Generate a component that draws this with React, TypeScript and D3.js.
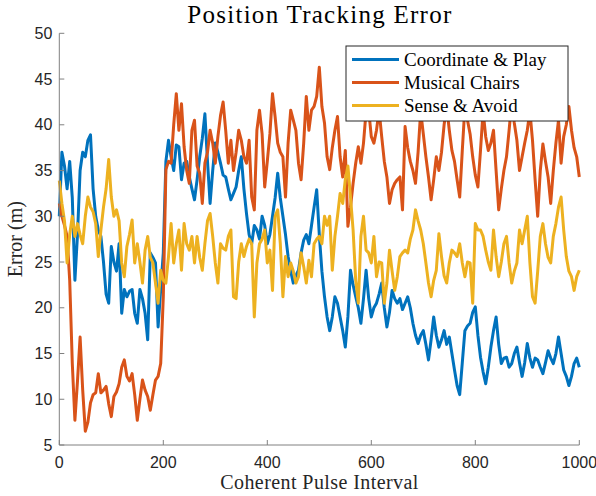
import * as d3 from 'd3';

// sample index along the x axis (every 5th coherent pulse interval)
const pulseIdx = d3.range(0, 1001, 5);

const coordinatePlay = [
  30, 37, 35.5, 33, 36, 32, 23, 28, 35, 37,
  36.5, 38.3, 38.9, 33, 30, 28.5, 27.8, 25, 21.5, 20.5,
  26.7, 25, 24, 27, 19.4, 22, 21.2, 21.8, 22, 19.4,
  18.3, 22, 21, 19.4, 16.5, 26, 25.5, 24.9, 17.9, 22,
  26, 36, 38.3, 36.5, 35, 37.8, 37.6, 34, 35.8, 36,
  34.3, 33, 31.8, 34, 36.5, 38.5, 41.2, 36, 31.4, 35,
  38, 37, 35.8, 34.5, 34.3, 33, 31.8, 32.5, 33.2, 35,
  36.5, 33, 30.3, 28, 27, 29, 28.5, 27.5, 30, 29,
  27, 28, 30, 32, 34.7, 32, 30, 28, 25.6, 24,
  22.7, 23.5, 24.1, 26, 27.4, 28, 27, 29, 31, 32.9,
  28, 24, 21.2, 19, 17.5, 19, 21.2, 20.5, 19, 17.5,
  15.7, 19, 24.1, 22.5, 21.2, 20, 18.3, 21, 24.1, 21,
  19, 20, 20.5, 21.5, 22.7, 20, 17.9, 19.5, 21.9, 21,
  20.5, 21, 19.8, 20.5, 21.2, 20, 18.3, 17, 16.1, 17,
  17.5, 16, 14.3, 16.5, 19, 17, 15.7, 16.5, 17.5, 16,
  16.8, 15, 13.2, 11.5, 10.5, 14, 17.5, 18, 18.3, 19.5,
  20.1, 17, 14.6, 13, 11.7, 13.5, 15.7, 17.5, 19, 16,
  13.9, 14.5, 14.6, 13.5, 13.9, 15, 15.7, 14, 12.5, 14,
  16.1, 14.5, 13.5, 14.5, 14.3, 13.5, 12.8, 14, 15.3, 14.5,
  13.9, 15, 16.8, 15, 13.2, 12.5, 11.5, 12.5, 13.9, 14.5,
  13.5,
];

const musicalChairs = [
  31.4, 30, 29, 27.8, 23, 13.9, 7.7, 12, 16.8, 11,
  6.5, 7.5, 9.6, 10.5, 10.7, 12.8, 10.7, 11, 11.4, 9.5,
  8.1, 10.3, 10.8, 11.7, 13.5, 14.3, 12.5, 12, 12.8, 10.5,
  7.7, 10, 12.1, 11, 10.3, 8.8, 10.5, 12.1, 12.5, 13.9,
  21.2, 35.1, 36, 35.8, 40, 43.4, 39.4, 42.3, 37.6, 35,
  33.6, 39.4, 40.5, 35.5, 34.7, 31.4, 35.8, 37, 39.4, 38,
  35.8, 38.7, 41, 42.5, 39.4, 35.8, 38.3, 35, 37, 39.4,
  38.3, 36.5, 35.8, 38.3, 32.1, 30.7, 39.4, 41.6, 39, 33.2,
  36, 39, 43.4, 40.9, 38, 37, 36.5, 32.1, 38, 41.6,
  40.5, 39.4, 35.8, 34, 38, 43.1, 39.4, 41.6, 42, 43.1,
  46.3, 42, 40.2, 36.5, 35.1, 37.5, 39.4, 40.9, 36.5, 34.3,
  37.2, 28.9, 31, 33.6, 35.8, 37.6, 35.8, 38, 41.5, 41.6,
  38.7, 38, 39.4, 41.6, 38.7, 36, 34.3, 31.4, 32.9, 33.6,
  34, 34.3, 30.7, 39.8, 37.5, 36, 35, 33.6, 37, 41.5,
  39, 36.5, 34.3, 31.8, 34, 36.5, 35, 37, 40, 42,
  39.4, 37.2, 36, 34, 32.1, 37.2, 42, 40.5, 39, 36.5,
  34.5, 33.2, 37.2, 41.5, 38.7, 37.2, 38, 39.4, 35, 30.7,
  33, 35, 36.5, 39.4, 42.5, 40.2, 38.3, 35, 36.5, 38,
  39.4, 41.5, 38.3, 34, 30, 35, 37.9, 36, 34.3, 31.4,
  35, 38, 40.5, 35.8, 38.7, 40, 42, 39.4, 37.5, 36.5,
  34.3,
];

const senseAvoid = [
  33.9, 31.4, 29.5, 24.9, 28, 30, 27.8, 29.2, 28, 27,
  30, 32.1, 31, 30.5, 29.2, 25.6, 28.5, 31, 33, 36.2,
  32.1, 30, 30.7, 29.5, 24.9, 23.4, 26.7, 28, 29.6, 24.9,
  27, 25, 22.7, 26.3, 27.8, 25.5, 24.9, 22.7, 20.5, 24.1,
  23, 22.7, 25.6, 29.2, 24.9, 27, 28.5, 24.1, 29.2, 27,
  26.3, 27.8, 24.9, 27.8, 25.5, 24.1, 27, 29.5, 30.3, 27.8,
  24.9, 22.7, 27, 26.5, 26.3, 27.8, 28.5, 21.2, 21, 25,
  27, 25.6, 26.7, 27.5, 27, 19, 24.9, 27, 27.5, 28.5,
  24.9, 26.3, 21.9, 30, 30.7, 27, 21.2, 25.6, 23.4, 24.9,
  24, 22.7, 23.4, 26, 24.5, 22.7, 25.2, 23.4, 27, 27.5,
  27.8, 27, 30, 29, 30, 24.1, 27.8, 30, 32.5, 31.4,
  34, 35.5, 32.1, 28.5, 23, 20.5, 27.8, 30, 26.3, 26,
  24.9, 27.8, 23.4, 25, 24.9, 20.5, 22.7, 26.3, 24, 21.9,
  23.4, 25.6, 26, 26.3, 26, 27.5, 28.5, 30.7, 29.5, 28.5,
  27, 24.9, 22.7, 21.2, 23, 24.1, 28.1, 25.6, 23.5, 22.7,
  24.9, 26.3, 26, 25.6, 27, 24.9, 23.4, 25, 24.9, 20.5,
  29.2, 28.5, 28.5, 27.8, 26.3, 25, 24.1, 28.5, 25.6, 23.4,
  25, 27, 27.8, 24.9, 22.7, 24, 24.9, 28.5, 27, 28.5,
  30, 24.9, 21.2, 20.5, 24, 27.8, 29.2, 27, 25.5, 24.9,
  27.8, 29.2, 31, 32.1, 28.5, 25.6, 24, 23.4, 21.9, 23.4,
  24.1,
];

const seriesNames = ['Coordinate & Play', 'Musical Chairs', 'Sense & Avoid'];
const seriesColors = ['#0072BD', '#D95319', '#EDB120'];
const xTicks = [0, 200, 400, 600, 800, 1000];
const yTicks = [5, 10, 15, 20, 25, 30, 35, 40, 45, 50];

const W = 596;
const H = 496;
const margin = { top: 33.3, right: 16.7, bottom: 51, left: 59.3 };
const serif = '"Liberation Serif", "Times New Roman", serif';
const sans = '"Liberation Sans", Arial, sans-serif';

const App = () => {
  const x = d3.scaleLinear().domain([0, 1000]).range([margin.left, W - margin.right]);
  const y = d3.scaleLinear().domain([5, 50]).range([H - margin.bottom, margin.top]);

  const line = d3.line<number>()
    .x((_, i) => x(pulseIdx[i]))
    .y(d => y(d));

  const allSeries = [coordinatePlay, musicalChairs, senseAvoid];
  const x0 = margin.left;
  const y0 = H - margin.bottom;
  const cx = (margin.left + W - margin.right) / 2;

  // legend box sits on top of the lines, like matlab's
  const lg = { x: 346, y: 46, w: 222, h: 75 };

  return (
    <div style={{ position: 'absolute', left: 0, top: 0 }}>
      <svg width={W} height={H} style={{ display: 'block', background: '#fff' }}>
        <text x={cx} y={23} textAnchor="middle" fontFamily={serif} fontSize={25}
          textLength={264} lengthAdjust="spacing" fill="#000">
          Position Tracking Error
        </text>

        <g>
          {allSeries.map((s, k) => (
            <path key={k} d={line(s) || ''} fill="none" stroke={seriesColors[k]}
              strokeWidth={3} strokeLinejoin="round" />
          ))}
        </g>

        <g stroke="#808080" strokeWidth={1}>
          <line x1={x0} x2={W - margin.right} y1={y0} y2={y0} />
          <line x1={x0} x2={x0} y1={y0} y2={margin.top} />
          {xTicks.map(t => (
            <line key={t} x1={x(t)} x2={x(t)} y1={y0} y2={y0 - 5} />
          ))}
          {yTicks.map(t => (
            <line key={t} x1={x0} x2={x0 + 5} y1={y(t)} y2={y(t)} />
          ))}
        </g>

        <g fontFamily={sans} fontSize={16} fill="#262626">
          {xTicks.map(t => (
            <text key={t} x={x(t)} y={y0 + 23} textAnchor="middle">{t}</text>
          ))}
          {yTicks.map(t => (
            <text key={t} x={x0 - 7} y={y(t) + 5.5} textAnchor="end">{t}</text>
          ))}
        </g>

        <text x={cx} y={489} textAnchor="middle" fontFamily={serif} fontSize={20}
          textLength={198} lengthAdjust="spacing" fill="#262626">
          Coherent Pulse Interval
        </text>
        <text transform={`translate(22,${(margin.top + y0) / 2}) rotate(-90)`} textAnchor="middle"
          fontFamily={serif} fontSize={20} fill="#262626">
          Error (m)
        </text>

        <g>
          <rect x={lg.x} y={lg.y} width={lg.w} height={lg.h} fill="#fff" stroke="#262626" strokeWidth={1} />
          {seriesNames.map((n, k) => {
            const ly = 59.5 + k * 23;
            return (
              <g key={n}>
                <line x1={352} x2={399} y1={ly} y2={ly} stroke={seriesColors[k]} strokeWidth={3} />
                <text x={404} y={ly + 6} fontFamily={serif} fontSize={19} fill="#000">{n}</text>
              </g>
            );
          })}
        </g>
      </svg>
    </div>
  );
};

export default App;
